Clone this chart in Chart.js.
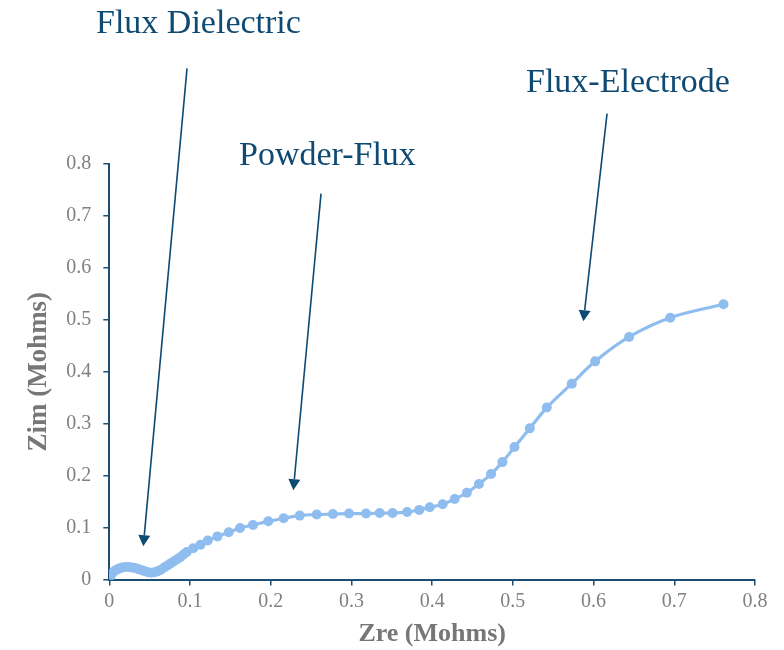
<!DOCTYPE html>
<html>
<head>
<meta charset="utf-8">
<script src="https://cdn.jsdelivr.net/npm/chart.js@4.4.1/dist/chart.umd.min.js"></script>
<style>
  html, body { margin: 0; padding: 0; background: #ffffff; }
  #wrap { width: 784px; height: 650px; position: relative; }
</style>
</head>
<body>
<div id="wrap"><canvas id="nyquist" width="784" height="650"></canvas></div>
<script>
// Nyquist plot: real vs imaginary impedance (Mohms)
const zre = [
  0.000, 0.002, 0.004, 0.006, 0.009, 0.012, 0.016, 0.020, 0.024, 0.028,
  0.032, 0.036, 0.040, 0.044, 0.048, 0.052, 0.056, 0.060, 0.064, 0.068,
  0.072, 0.076, 0.080, 0.084, 0.088, 0.092, 0.096, 0.104, 0.113, 0.122,
  0.134, 0.148, 0.162, 0.178, 0.197, 0.216, 0.236, 0.257, 0.277, 0.297,
  0.318, 0.335, 0.351, 0.369, 0.384, 0.397, 0.413, 0.428, 0.443, 0.458,
  0.473, 0.487, 0.502, 0.521, 0.542, 0.573, 0.602, 0.644, 0.695, 0.761
];
const zim = [
  0.002, 0.008, 0.013, 0.016, 0.019, 0.021, 0.023, 0.024, 0.024, 0.023,
  0.022, 0.020, 0.018, 0.016, 0.014, 0.013, 0.014, 0.016, 0.019, 0.023,
  0.027, 0.031, 0.035, 0.039, 0.043, 0.048, 0.053, 0.060, 0.067, 0.075,
  0.083, 0.091, 0.099, 0.105, 0.112, 0.118, 0.123, 0.125, 0.126, 0.127,
  0.127, 0.128, 0.128, 0.130, 0.134, 0.139, 0.145, 0.155, 0.167, 0.184,
  0.203, 0.226, 0.255, 0.291, 0.331, 0.377, 0.420, 0.467, 0.504, 0.530
];
const xTicks = [0, 0.1, 0.2, 0.3, 0.4, 0.5, 0.6, 0.7, 0.8];
const yTicks = [0, 0.1, 0.2, 0.3, 0.4, 0.5, 0.6, 0.7, 0.8];

// Region callouts: label text and arrow from tail to tip (data units)
const calloutText = ['Flux Dielectric', 'Powder-Flux', 'Flux-Electrode'];
const calloutTail = [[0.0963, 0.984], [0.2623, 0.743], [0.6167, 0.897]];
const calloutTip  = [[0.0421, 0.064], [0.2280, 0.172], [0.5874, 0.497]];
// label placement on the canvas (left edge, baseline) in px
const calloutPos  = [[96, 33], [239, 165], [526, 92]];

const navy = '#1c4e74';
const calloutColor = '#0f4a73';
const tickGray = '#808080';
const titleGray = '#777777';
const lineBlue = '#8fbdf0';

const points = zre.map((x, i) => ({ x: x, y: zim[i] }));

const callouts = {
  id: 'callouts',
  afterDatasetsDraw(chart) {
    const { ctx, scales: { x, y } } = chart;
    ctx.save();
    ctx.strokeStyle = calloutColor;
    ctx.fillStyle = calloutColor;
    ctx.lineWidth = 1.6;
    calloutText.forEach((txt, i) => {
      const x0 = x.getPixelForValue(calloutTail[i][0]);
      const y0 = y.getPixelForValue(calloutTail[i][1]);
      const x1 = x.getPixelForValue(calloutTip[i][0]);
      const y1 = y.getPixelForValue(calloutTip[i][1]);
      const ang = Math.atan2(y1 - y0, x1 - x0);
      const headLen = 11, headHalf = 6;
      const bx = x1 - headLen * Math.cos(ang);
      const by = y1 - headLen * Math.sin(ang);
      ctx.beginPath();
      ctx.moveTo(x0, y0);
      ctx.lineTo(bx, by);
      ctx.stroke();
      ctx.beginPath();
      ctx.moveTo(x1, y1);
      ctx.lineTo(bx + headHalf * Math.sin(ang), by - headHalf * Math.cos(ang));
      ctx.lineTo(bx - headHalf * Math.sin(ang), by + headHalf * Math.cos(ang));
      ctx.closePath();
      ctx.fill();
      ctx.font = '34px "Liberation Serif", "Times New Roman", serif';
      ctx.textAlign = 'left';
      ctx.textBaseline = 'alphabetic';
      ctx.fillText(txt, calloutPos[i][0], calloutPos[i][1]);
    });
    ctx.restore();
  }
};

new Chart(document.getElementById('nyquist'), {
  type: 'scatter',
  data: {
    datasets: [{
      label: 'Zim',
      data: points,
      showLine: true,
      tension: 0.4,
      borderColor: lineBlue,
      borderWidth: 3.2,
      backgroundColor: lineBlue,
      pointBackgroundColor: lineBlue,
      pointBorderWidth: 0,
      pointRadius: 5,
      pointHoverRadius: 5
    }]
  },
  options: {
    responsive: false,
    animation: false,
    events: [],
    layout: { padding: { top: 164, right: 29, bottom: 0, left: 0 } },
    plugins: { legend: { display: false }, tooltip: { enabled: false } },
    scales: {
      x: {
        type: 'linear',
        min: 0, max: 0.8,
        afterFit(s) { s.height = 70.5; },
        afterBuildTicks(s) { s.ticks = xTicks.map(v => ({ value: v })); },
        border: { color: navy, width: 2 },
        grid: { drawOnChartArea: false, drawTicks: true, tickLength: 6, color: navy, lineWidth: 1.5 },
        ticks: {
          color: tickGray, padding: 4,
          font: { family: '"Liberation Serif", "Times New Roman", serif', size: 20 },
          callback: v => String(v)
        },
        title: {
          display: true, text: 'Zre (Mohms)', color: titleGray,
          padding: { top: 0, bottom: 0 },
          font: { family: '"Liberation Serif", "Times New Roman", serif', size: 26, weight: 'bold' }
        }
      },
      y: {
        type: 'linear',
        min: 0, max: 0.8,
        afterFit(s) { s.width = 109.3; },
        afterBuildTicks(s) { s.ticks = yTicks.map(v => ({ value: v })); },
        border: { color: navy, width: 2 },
        grid: { drawOnChartArea: false, drawTicks: true, tickLength: 6, color: navy, lineWidth: 1.5 },
        ticks: {
          color: tickGray, padding: 12,
          font: { family: '"Liberation Serif", "Times New Roman", serif', size: 20 },
          callback: v => String(v)
        },
        title: {
          display: true, text: 'Zim (Mohms)', color: titleGray,
          padding: { top: 23, bottom: 0 },
          font: { family: '"Liberation Serif", "Times New Roman", serif', size: 27, weight: 'bold' }
        }
      }
    }
  },
  plugins: [callouts]
});
</script>
</body>
</html>
